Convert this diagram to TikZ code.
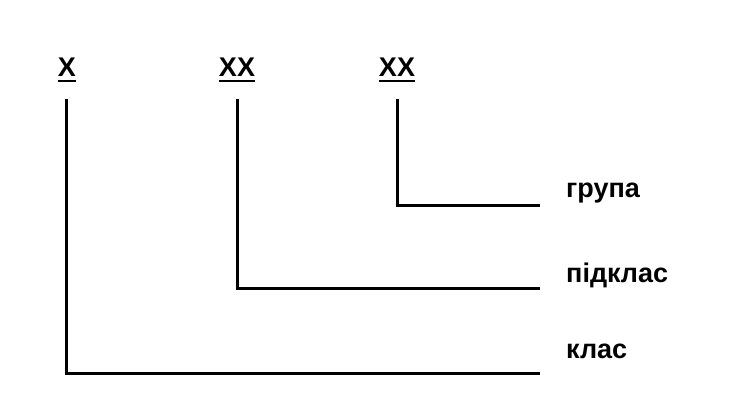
\documentclass[tikz,border=0pt]{standalone}
\usepackage{fontspec}
\setmainfont{Liberation Sans}
\usetikzlibrary{positioning}

\tikzset{
  code/.style={font=\fontsize{27}{30}\selectfont\bfseries, inner sep=0pt, anchor=base},
  lbl/.style={font=\fontsize{27}{30}\selectfont\bfseries, inner sep=0pt, anchor=base west},
  uline/.style={line width=2.6pt},
  tree/.style={line width=3pt, line cap=rect}
}

\begin{document}
\begin{tikzpicture}[x=1pt, y=-1pt]
  \useasboundingbox (0,0) rectangle (733,412);
  \node[code] (cls)  at (67,77)  {X};
  \node[code] (sub)  at (237,77) {XX};
  \node[code] (grp)  at (397,77) {XX};
  % underlines
  \draw[uline] ([yshift=-4pt]cls.base west) -- ([yshift=-4pt]cls.base east);
  \draw[uline] ([yshift=-4pt]sub.base west) -- ([yshift=-4pt]sub.base east);
  \draw[uline] ([yshift=-4pt]grp.base west) -- ([yshift=-4pt]grp.base east);
  \node[lbl] (lgrp) at (566,197) {група};
  \node[lbl] (lsub) at (566,282) {підклас};
  \node[lbl] (lcls) at (566,358) {клас};
  \coordinate (egrp) at (538,205);
  \coordinate (esub) at (538,288);
  \coordinate (ecls) at (538,373);
  \draw[tree] ([yshift=-23pt,xshift=-1pt]cls.base) |- (ecls);
  \draw[tree] ([yshift=-23pt]sub.base) |- (esub);
  \draw[tree] ([yshift=-23pt]grp.base) |- (egrp);
\end{tikzpicture}
\end{document}
